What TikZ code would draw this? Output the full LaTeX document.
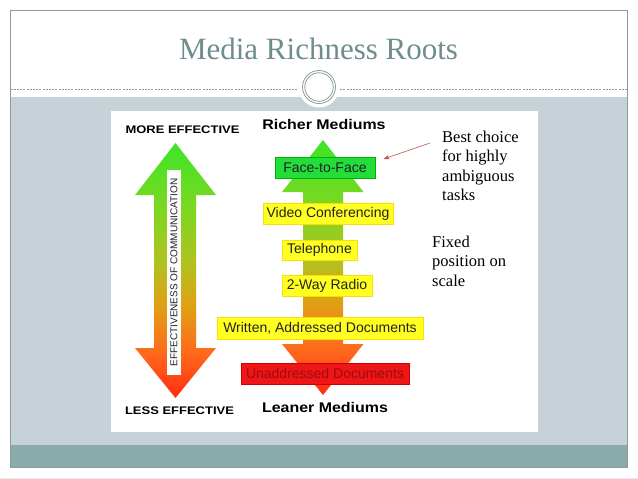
\documentclass[tikz,border=0pt]{standalone}
\usepackage{fontspec}
\setmainfont{Liberation Serif}
\newfontfamily\arialfont{Liberation Sans}
\usetikzlibrary{arrows.meta}
\definecolor{framegray}{HTML}{8C9C9C}
\definecolor{titlecol}{HTML}{6F8D8D}
\definecolor{bandgray}{HTML}{C7D2D8}
\definecolor{bandteal}{HTML}{8AABAB}
\definecolor{boxgreen}{HTML}{22DD3A}
\definecolor{boxyellow}{HTML}{FFFF22}
\definecolor{boxred}{HTML}{EE1616}
\definecolor{redtext}{HTML}{A00C0C}
\definecolor{annored}{HTML}{C0504D}
\definecolor{txtdark}{HTML}{222222}
\definecolor{gtop}{HTML}{3EE428}
\definecolor{gmid}{HTML}{7CD820}
\definecolor{olive}{HTML}{B4C020}
\definecolor{amber}{HTML}{E0A014}
\definecolor{orng}{HTML}{FF6A1C}
\definecolor{rbot}{HTML}{FF2C12}
\pgfdeclareverticalshading{effshade}{100bp}{%
  color(0bp)=(rbot);
  color(25bp)=(rbot);
  color(34bp)=(orng);
  color(43bp)=(amber);
  color(51bp)=(olive);
  color(62bp)=(gmid);
  color(75bp)=(gtop);
  color(100bp)=(gtop)}
\tikzset{
  medbox/.style={minimum height=21pt, inner sep=0pt, font=\arialfont\fontsize{14}{16}\selectfont, text=txtdark},
  bigbold/.style={font=\arialfont\bfseries\fontsize{14}{16}\selectfont, xscale=1.14, anchor=base, inner sep=0pt},
  capbold/.style={font=\arialfont\bfseries\fontsize{11}{13}\selectfont, xscale=1.18, anchor=base, inner sep=0pt},
  annot/.style={font=\fontsize{16.5}{19.5}\selectfont, align=left, anchor=north west, inner sep=0pt, text=black},
  arrowbody/.style={shading=effshade, draw=none}
}
\begin{document}
\begin{tikzpicture}[x=1pt,y=-1pt]
\useasboundingbox (0,0) rectangle (638,479);
\fill[white] (0,0) rectangle (638,479);
% bands
\fill[bandgray] (10.5,97) rectangle (627,445);
\fill[bandteal] (10.5,445) rectangle (627,467);
\draw[black!8] (0,478) -- (638,478);
% frame
\draw[framegray, line width=1pt] (10.5,10.5) rectangle (627,467);
% dashed line
\draw[framegray, line width=0.8pt, dash pattern=on 2pt off 1.2pt] (10.5,89) -- (627,89);
% circle ornament
\fill[white] (319,87) circle (20.5);
\draw[framegray, line width=0.8pt] (319,87) circle (16.5);
\draw[framegray, line width=0.8pt] (319,87) circle (14.2);
% title
\node[font=\fontsize{31}{34}\selectfont, text=titlecol, anchor=base, inner sep=0pt] (title) at (318.5,59.3) {Media Richness Roots};
% panel
\fill[white] (111,111) rectangle (538,432);
% left double arrow
\shade[arrowbody] (175.5,143) -- (216,195) -- (196,195) -- (196,348) -- (216,348) -- (175.5,398) -- (135,348) -- (154,348) -- (154,195) -- (135,195) -- cycle;
\node[fill=white, minimum width=14pt, minimum height=205pt, inner sep=0pt] (effbox) at (174,272.5) {};
\node[rotate=90, font=\arialfont\fontsize{10}{12}\selectfont, text=txtdark, inner sep=0pt] (efftext) at (effbox.center) {EFFECTIVENESS OF COMMUNICATION};
% right arrow
\shade[arrowbody] (323,140) -- (363.5,192) -- (343,192) -- (343,344) -- (363.5,344) -- (323,395) -- (282,344) -- (303,344) -- (303,192) -- (282,192) -- cycle;
% headings
\node[capbold] (more) at (182.5,133.5) {MORE EFFECTIVE};
\node[capbold] (less) at (179.5,414) {LESS EFFECTIVE};
\node[bigbold] (richer) at (324,129) {Richer Mediums};
\node[bigbold] (leaner) at (325,412.5) {Leaner Mediums};
% boxes
\node[medbox, fill=boxgreen, draw=green!70!black, line width=0.3pt, minimum width=100pt] (face) at (325,168) {Face-to-Face};
\node[medbox, fill=boxyellow, draw=yellow!80!orange, line width=0.3pt, minimum width=130pt] (video) at (328,214) {Video Conferencing};
\node[medbox, fill=boxyellow, draw=yellow!80!orange, line width=0.3pt, minimum width=75pt, minimum height=20pt] (phone) at (319.5,250) {Telephone};
\node[medbox, fill=boxyellow, draw=yellow!80!orange, line width=0.3pt, minimum width=90pt] (radio) at (327,285.5) {2-Way Radio};
\node[medbox, fill=boxyellow, draw=yellow!80!orange, line width=0.3pt, minimum width=206pt, minimum height=22pt] (written) at (320,328) {Written, Addressed Documents};
\node[medbox, fill=boxred, draw=red!80!black, line width=0.3pt, minimum width=168pt, text=redtext] (unaddr) at (325,373.5) {Unaddressed Documents};
% annotations
\node[annot] (best) at (442,130.5) {Best choice\\for highly\\ambiguous\\tasks};
\node[annot] (fixed) at (432,235.5) {Fixed\\position on\\scale};
\coordinate (astart) at (430,143);
\coordinate (aend) at (383.5,159);
\draw[annored, line width=0.6pt, -{Stealth[length=6pt,width=4.5pt]}] (astart) -- (aend);
\end{tikzpicture}
\end{document}
